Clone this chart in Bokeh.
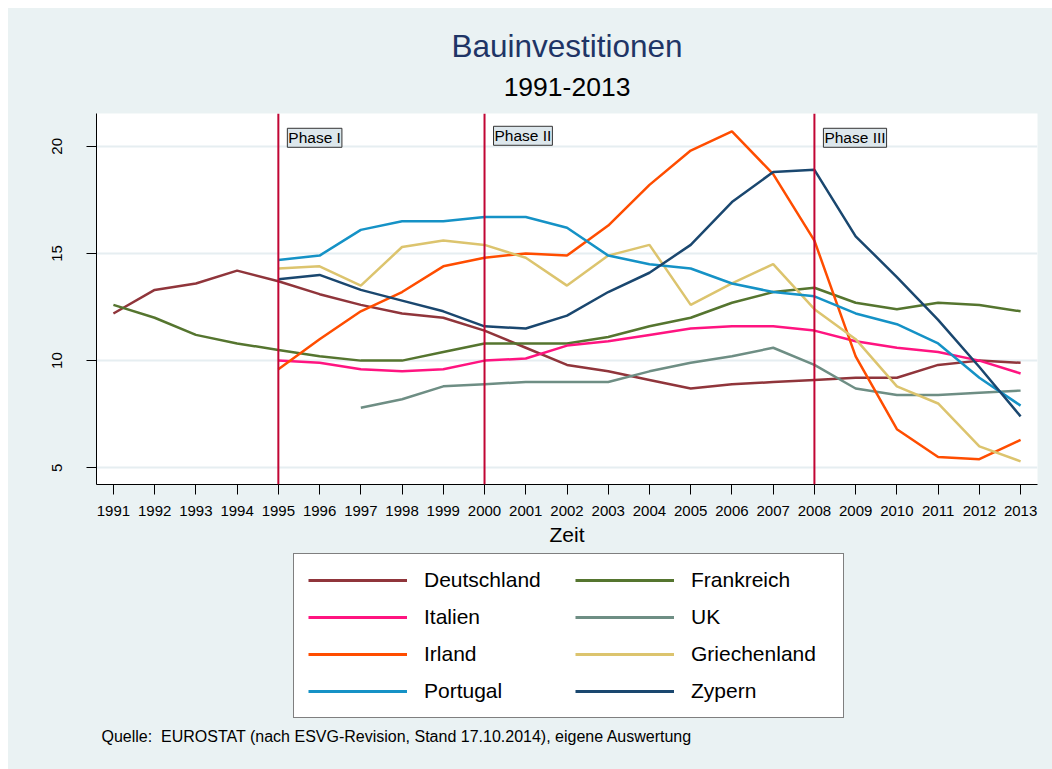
from bokeh.plotting import figure
from bokeh.layouts import column
from bokeh.models import Range1d, FixedTicker, Span, Label, Legend, LegendItem, Title
from bokeh.embed import file_html
from bokeh.resources import INLINE

nan = float("nan")

years = list(range(1991, 2014))
phase_years = [1995, 2000, 2008]
phase_labels = ["Phase I", "Phase II", "Phase III"]

deutschland = [12.2, 13.3, 13.6, 14.2, 13.7, 13.1, 12.6, 12.2, 12.0, 11.4, 10.6, 9.8,
               9.5, 9.1, 8.7, 8.9, 9.0, 9.1, 9.2, 9.2, 9.8, 10.0, 9.9]
frankreich = [12.6, 12.0, 11.2, 10.8, 10.5, 10.2, 10.0, 10.0, 10.4, 10.8, 10.8, 10.8,
              11.1, 11.6, 12.0, 12.7, 13.2, 13.4, 12.7, 12.4, 12.7, 12.6, 12.3]
italien = [nan, nan, nan, nan, 10.0, 9.9, 9.6, 9.5, 9.6, 10.0, 10.1, 10.7,
           10.9, 11.2, 11.5, 11.6, 11.6, 11.4, 10.9, 10.6, 10.4, 10.0, 9.4]
uk = [nan, nan, nan, nan, nan, nan, 7.8, 8.2, 8.8, 8.9, 9.0, 9.0,
      9.0, 9.5, 9.9, 10.2, 10.6, 9.8, 8.7, 8.4, 8.4, 8.5, 8.6]
irland = [nan, nan, nan, nan, 9.6, 11.0, 12.3, 13.2, 14.4, 14.8, 15.0, 14.9,
          16.3, 18.2, 19.8, 20.7, 18.7, 15.6, 10.2, 6.8, 5.5, 5.4, 6.3]
griechenland = [nan, nan, nan, nan, 14.3, 14.4, 13.5, 15.3, 15.6, 15.4, 14.8, 13.5,
                14.9, 15.4, 12.6, 13.6, 14.5, 12.4, 11.0, 8.8, 8.0, 6.0, 5.3]
portugal = [nan, nan, nan, nan, 14.7, 14.9, 16.1, 16.5, 16.5, 16.7, 16.7, 16.2,
            14.9, 14.5, 14.3, 13.6, 13.2, 13.0, 12.2, 11.7, 10.8, 9.2, 7.9]
zypern = [nan, nan, nan, nan, 13.8, 14.0, 13.3, 12.8, 12.3, 11.6, 11.5, 12.1,
          13.2, 14.1, 15.4, 17.4, 18.8, 18.9, 15.8, 13.9, 11.9, 9.7, 7.4]

series_names = ["Deutschland", "Frankreich", "Italien", "UK", "Irland",
                "Griechenland", "Portugal", "Zypern"]
series_values = [deutschland, frankreich, italien, uk, irland,
                 griechenland, portugal, zypern]
series_colors = ["#90353b", "#55752f", "#ff1480", "#6e8e84", "#ff4d00",
                 "#dcc46e", "#1592c6", "#1a476f"]
y_ticks = [5, 10, 15, 20]

FONT = "Liberation Sans"
BG = "#eaf2f3"

# ---------------- main chart ----------------
p = figure(width=1044, height=544, title=None,
           x_range=Range1d(1990.59, 2013.41), y_range=Range1d(4.22, 21.53),
           output_backend="svg", toolbar_location=None,
           min_border_left=88, min_border_right=15,
           min_border_top=105, min_border_bottom=68)
p.border_fill_color = BG
p.background_fill_color = "white"
p.outline_line_color = None
p.xgrid.visible = False
p.ygrid.grid_line_color = "#e6eef1"
p.ygrid.grid_line_width = 2
p.ygrid.ticker = FixedTicker(ticks=y_ticks)

p.xaxis.ticker = FixedTicker(ticks=years)
p.xaxis.major_label_text_font = FONT
p.xaxis.major_label_text_font_size = "15px"
p.xaxis.major_label_text_color = "black"
p.xaxis.major_tick_out = 10
p.xaxis.major_tick_in = 0
p.xaxis.minor_tick_out = 0
p.xaxis.minor_tick_in = 0
p.xaxis.major_label_standoff = 11
p.xaxis.axis_label = "Zeit"
p.xaxis.axis_label_text_font = FONT
p.xaxis.axis_label_text_font_size = "21px"
p.xaxis.axis_label_text_font_style = "normal"
p.xaxis.axis_label_text_color = "black"
p.xaxis.axis_label_standoff = 4

p.yaxis.ticker = FixedTicker(ticks=y_ticks)
p.yaxis.major_label_orientation = "vertical"
p.yaxis.major_label_text_font = FONT
p.yaxis.major_label_text_font_size = "15px"
p.yaxis.major_label_text_color = "black"
p.yaxis.major_tick_out = 10
p.yaxis.major_tick_in = 0
p.yaxis.minor_tick_out = 0
p.yaxis.minor_tick_in = 0
p.yaxis.major_label_standoff = 24
for ax in (p.xaxis, p.yaxis):
    ax.axis_line_color = "black"
    ax.major_tick_line_color = "black"

for name, vals, col in zip(series_names, series_values, series_colors):
    p.line(years, vals, line_color=col, line_width=2.5)

for yr in phase_years:
    p.add_layout(Span(location=yr, dimension="height", line_color="#c10534",
                      line_width=2))

phase_yoff = [-1, 1, -1]
for yr, lab, yo in zip(phase_years, phase_labels, phase_yoff):
    p.add_layout(Label(x=yr, y=20, x_offset=9, y_offset=yo, text=lab,
                       text_font=FONT, text_font_size="15.5px", text_color="black",
                       text_baseline="bottom", text_align="left",
                       background_fill_color="#dde7ec",
                       border_line_color="#333333", border_line_width=1,
                       padding=1))

p.add_layout(Title(text="1991-2013", align="center", text_font=FONT,
                   text_font_size="26.5px", text_font_style="normal",
                   text_color="black", standoff=35), "above")
p.add_layout(Title(text="Bauinvestitionen", align="center", text_font=FONT,
                   text_font_size="31.5px", text_font_style="normal",
                   text_color="#1f3566", standoff=-11), "above")

# ---------------- legend + source note ----------------
q = figure(width=1044, height=217, x_range=Range1d(96, 1037), y_range=Range1d(769, 552),
           output_backend="svg", toolbar_location=None,
           x_axis_type=None, y_axis_type=None,
           min_border_left=88, min_border_right=15, min_border_top=0, min_border_bottom=0)
q.border_fill_color = BG
q.background_fill_color = BG
q.outline_line_color = None
q.grid.visible = False

legend_order = ["Deutschland", "Italien", "Irland", "Portugal",
                "Frankreich", "UK", "Griechenland", "Zypern"]
color_of = dict(zip(series_names, series_colors))
items = []
for n in legend_order:
    r = q.line(x=[nan], y=[nan], line_color=color_of[n], line_width=3)
    items.append(LegendItem(label=n, renderers=[r]))
legend = Legend(items=items, location=(197, 51), orientation="vertical", ncols=2,
                glyph_width=99, glyph_height=22, label_height=22, label_width=138,
                label_standoff=17, spacing=13, padding=14, margin=0,
                label_text_font=FONT, label_text_font_size="21px",
                label_text_color="black",
                border_line_color="black", border_line_width=1,
                background_fill_color="white", background_fill_alpha=1)
q.add_layout(legend)

q.add_layout(Label(x=101, y=736,
                   text="Quelle:\u00a0 EUROSTAT (nach ESVG-Revision, Stand 17.10.2014), eigene Auswertung",
                   text_font=FONT, text_font_size="16px", text_color="black",
                   text_align="left", text_baseline="alphabetic"))

layout = column(p, q, spacing=0, margin=(8, 0, 0, 8), styles={"background-color": BG})
open("out.html", "w").write(file_html(layout, INLINE))
